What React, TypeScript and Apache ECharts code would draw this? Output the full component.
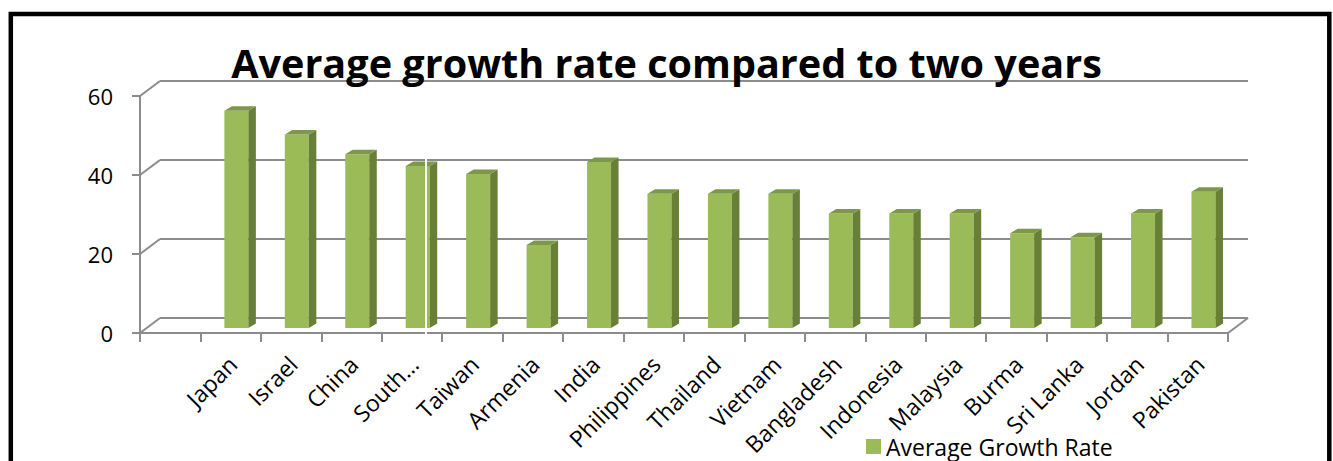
import React, { useEffect, useRef } from 'react';
import * as echarts from 'echarts';

const categories = ['Japan', 'Israel', 'China', 'South…', 'Taiwan', 'Armenia', 'India', 'Philippines', 'Thailand', 'Vietnam', 'Bangladesh', 'Indonesia', 'Malaysia', 'Burma', 'Sri Lanka', 'Jordan', 'Pakistan'];
const growthRate = [55, 49, 44, 41, 39, 21, 42, 34, 34, 34, 29, 29, 29, 24, 23, 29, 34.5];
const yTicks = [0, 20, 40, 60];
const seriesName = 'Average Growth Rate';
const titleText = 'Average growth rate compared to two years';

// first slot of the category axis is empty in the original chart
const axisCats = ['', ...categories];

export default function App() {
  const ref = useRef<HTMLDivElement>(null);
  useEffect(() => {
    const chart = echarts.init(ref.current!, null, { renderer: 'svg' });
    const DX = 20, DY = 15; // depth of the 3d box
    const G = { left: 140, right: 105, top: 96, bottom: 128 };
    const gray = '#8c8c8c';
    const font = 'Open Sans';
    const FRONT = '#9BBB59', SIDE = '#677F37', TOP = '#7D9848';

    chart.setOption({
      animation: false,
      title: {
        text: titleText,
        left: 'center',
        top: 42.5,
        padding: [0, 0, 0, 10],
        textStyle: { fontFamily: font, fontWeight: 'bold', fontSize: 39.6, color: '#000' },
      },
      legend: {
        left: 866,
        top: 435,
        padding: 0,
        itemWidth: 15,
        itemHeight: 15,
        data: [{ name: seriesName, icon: 'rect' }],
        textStyle: { fontFamily: font, fontSize: 23, color: '#000' },
      },
      grid: [
        { ...G },
        { left: G.left + DX, right: G.right - DX, top: G.top - DY, bottom: G.bottom + DY },
        { left: G.left + 2, right: G.right - 2, top: G.top, bottom: G.bottom },
      ],
      xAxis: [
        {
          gridIndex: 0, type: 'category', data: axisCats, boundaryGap: true,
          axisLine: { lineStyle: { color: gray, width: 2 } },
          axisTick: { show: true, interval: 0, length: 9, lineStyle: { color: gray, width: 2 } },
          axisLabel: { show: false },
        },
        { gridIndex: 1, type: 'category', data: axisCats, show: false },
        {
          gridIndex: 2, type: 'category', data: axisCats,
          axisLine: { show: false }, axisTick: { show: false },
          axisLabel: { interval: 0, rotate: 45, margin: 27, fontFamily: font, fontSize: 23, color: '#000' },
        },
      ],
      yAxis: [
        {
          gridIndex: 0, type: 'value', min: 0, max: 60, interval: 20,
          axisLine: { show: true, lineStyle: { color: gray, width: 2 } },
          axisTick: { show: true, length: 8, lineStyle: { color: gray, width: 2 } },
          splitLine: { show: false },
          axisLabel: { margin: 27, fontFamily: font, fontSize: 22, color: '#000' },
        },
        {
          gridIndex: 1, type: 'value', min: 0, max: 60, interval: 20,
          axisLine: { show: false }, axisTick: { show: false }, axisLabel: { show: false },
          splitLine: { show: true, lineStyle: { color: gray, width: 2 } },
        },
        { gridIndex: 2, type: 'value', min: 0, max: 60, show: false },
      ],
      series: [
        {
          type: 'custom',
          xAxisIndex: 0, yAxisIndex: 0,
          silent: true,
          data: [...yTicks.map((v) => [0, v, -1]), [axisCats.length - 1, 0, 1]],
          renderItem: (params: any, api: any) => {
            const p = api.coord([api.value(0), api.value(1)]);
            const half = api.size([1, 0])[0] / 2;
            const x = p[0] + api.value(2) * half;
            return {
              type: 'line',
              shape: { x1: x, y1: p[1], x2: x + DX, y2: p[1] - DY },
              style: { stroke: gray, lineWidth: 2 },
            };
          },
        },
        {
          type: 'custom',
          name: seriesName,
          xAxisIndex: 0, yAxisIndex: 0,
          itemStyle: { color: FRONT },
          data: growthRate.map((v, i) => [i + 1, v]),
          renderItem: (params: any, api: any) => {
            const idx = api.value(0), v = api.value(1);
            const b = api.coord([idx, 0]);
            const t = api.coord([idx, v]);
            const bw = 24, sd = 7.5, sh = 4.5, offX = -6.3, offY = -5;
            const xl = b[0] + offX, xr = xl + bw;
            const yb = b[1] + offY, yt = t[1] + offY;
            return {
              type: 'group',
              children: [
                { type: 'rect', shape: { x: xl, y: yt, width: bw, height: yb - yt }, style: { fill: FRONT } },
                { type: 'polygon', shape: { points: [[xr, yt], [xr + sd, yt - sh], [xr + sd, yb - sh], [xr, yb]] }, style: { fill: SIDE } },
                { type: 'polygon', shape: { points: [[xl, yt], [xl + sd, yt - sh], [xr + sd, yt - sh], [xr, yt]] }, style: { fill: TOP } },
              ],
            };
          },
        },
      ],
      graphic: [
        { type: 'line', silent: true, shape: { x1: 426, y1: 155, x2: 426, y2: 338 }, style: { stroke: '#fff', lineWidth: 2 }, z: 100 },
        { type: 'rect', silent: true, shape: { x: 10.8, y: 14, width: 1318.5, height: 480 }, style: { fill: 'none', stroke: '#000', lineWidth: 4.5 }, z: 100 },
      ],
    });
    return () => chart.dispose();
  }, []);
  return <div ref={ref} style={{ position: 'fixed', left: 0, top: 0, width: 1333, height: 461, background: '#fff' }} />;
}
